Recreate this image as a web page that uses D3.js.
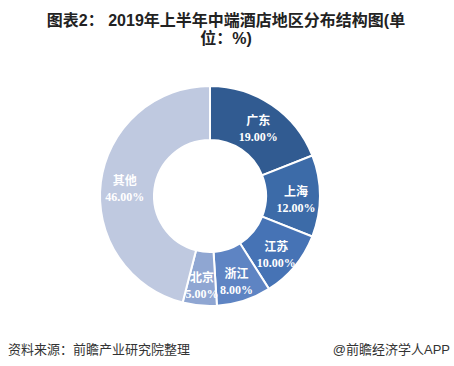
<!DOCTYPE html>
<meta charset='utf-8'>
<style>
body { margin: 0; background: #fff; }
svg { display: block; }
text { font-family: "Liberation Sans", "Noto Sans CJK SC", sans-serif; }
.title { font-size: 16px; font-weight: bold; fill: #222; }
.lbl { font-family: "Liberation Serif", "Noto Sans CJK SC", serif; font-size: 12px; font-weight: bold; fill: #fff; }
.foot { font-size: 13px; fill: #333; }
</style>
<svg width="454" height="366"></svg>
<script src="https://cdn.jsdelivr.net/npm/d3@7"></script>
<script>

const regions = ['广东', '上海', '江苏', '浙江', '北京', '其他'];
const shares = [19, 12, 10, 8, 5, 46];
const colors = ['#315B91', '#3C6BA8', '#4673B5', '#5E84C3', '#8FA6D2', '#BFC9E0'];

const svg = d3.select('svg');
const cx = 210, cy = 196;
const outer = 110, inner = 56;

// title, wraps to two lines like the source
svg.append('text').attr('class', 'title')
  .attr('x', 226).attr('y', 26).attr('text-anchor', 'middle')
  .text('图表2： 2019年上半年中端酒店地区分布结构图(单');
svg.append('text').attr('class', 'title')
  .attr('x', 226).attr('y', 44).attr('text-anchor', 'middle')
  .text('位：%)');

const pie = d3.pie().sort(null).value(d => d)(shares);
const arc = d3.arc().innerRadius(inner).outerRadius(outer);
const labelArc = d3.arc().innerRadius(86).outerRadius(86);

const g = svg.append('g').attr('transform', 'translate(' + cx + ',' + cy + ')');

g.selectAll('path')
  .data(pie)
  .join('path')
  .attr('d', arc)
  .attr('fill', (d, i) => colors[i])
  .attr('stroke', '#fff')
  .attr('stroke-width', 2);

const lab = g.selectAll('g.lab')
  .data(pie)
  .join('g')
  .attr('class', 'lab')
  .attr('transform', d => {
    const c = labelArc.centroid(d);
    return 'translate(' + c[0] + ',' + c[1] + ')';
  });

lab.append('text').attr('class', 'lbl')
  .attr('text-anchor', 'middle').attr('y', 0)
  .text((d, i) => regions[i]);
lab.append('text').attr('class', 'lbl')
  .attr('text-anchor', 'middle').attr('y', 16)
  .text(d => d.data.toFixed(2) + '%');

svg.append('text').attr('class', 'foot')
  .attr('x', 8).attr('y', 354)
  .text('资料来源：前瞻产业研究院整理');
svg.append('text').attr('class', 'foot')
  .attr('x', 450).attr('y', 354).attr('text-anchor', 'end')
  .text('@前瞻经济学人APP');

</script>
